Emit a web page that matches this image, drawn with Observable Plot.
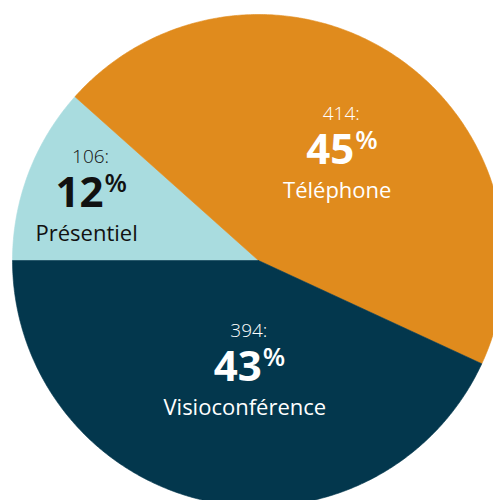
<!DOCTYPE html>
<html>
<head>
<meta charset="utf-8">
<script src="https://cdn.jsdelivr.net/npm/d3@7"></script>
<script src="https://cdn.jsdelivr.net/npm/@observablehq/plot@0.6"></script>
<style>
  html, body { margin: 0; padding: 0; background: #ffffff; }
  #chart svg { display: block; }
</style>
</head>
<body>
<div id="chart"></div>
<script>
// Data (pie order, clockwise starting from 9 o'clock)
const categories = ["Présentiel", "Téléphone", "Visioconférence"];
const counts = [106, 414, 394];
const sliceColors = ["#a9dcdf", "#e08b1d", "#03374d"];
const textColors = ["#111111", "#ffffff", "#ffffff"];

// Layout (styling, not data)
const W = 493, H = 500;
const CX = 258, CY = 260, R = 246;
// label radius (fraction of R) and pixel nudge per slice
const labelStyle = {
  "Présentiel":      {r: 0.70,  dx: -3, dy: 8},
  "Téléphone":       {r: 0.524, dx: 16, dy: 11},
  "Visioconférence": {r: 0.486, dx: 20, dy: 4}
};
const FONT = "'Open Sans', 'Noto Sans', sans-serif";

const total = d3.sum(counts);
const arcs = d3.pie().sort(null).value(d => d)
  .startAngle(-Math.PI / 2).endAngle(3 * Math.PI / 2)(counts);

// Slice outlines in unit coordinates (center 0,0, radius 1, y up)
const slicePts = [];
arcs.forEach((a, i) => {
  const cat = categories[i];
  slicePts.push({cat, x: 0, y: 0});
  const n = Math.max(2, Math.ceil((a.endAngle - a.startAngle) / (Math.PI / 360)));
  for (let k = 0; k <= n; k++) {
    const t = a.startAngle + (a.endAngle - a.startAngle) * k / n;
    slicePts.push({cat, x: Math.sin(t), y: Math.cos(t)});
  }
  slicePts.push({cat, x: 0, y: 0});
});

// Labels anchored on each slice's mid-angle
const labels = arcs.map((a, i) => {
  const mid = (a.startAngle + a.endAngle) / 2;
  const s = labelStyle[categories[i]];
  return {
    cat: categories[i],
    count: counts[i],
    pct: Math.round(counts[i] / total * 100),
    x: s.r * Math.sin(mid),
    y: s.r * Math.cos(mid),
    color: textColors[i]
  };
});

const textMarks = [];
labels.forEach(d => {
  const s = labelStyle[d.cat];
  const col = d.color;
  const one = [d];
  textMarks.push(
    Plot.text(one, {x: "x", y: "y", text: d => `${d.count}:`, fill: col,
      fontSize: 19, fontWeight: 300, lineAnchor: "bottom", dy: s.dy - 44, dx: s.dx - 4, fontFamily: FONT}),
    Plot.text(one, {x: "x", y: "y", text: d => `${d.pct}`, fill: col,
      fontSize: 42, fontWeight: 700, lineAnchor: "bottom", textAnchor: "end", dx: s.dx + 9, dy: s.dy, fontFamily: FONT}),
    Plot.text(one, {x: "x", y: "y", text: () => "%", fill: col,
      fontSize: 26, fontWeight: 600, lineAnchor: "bottom", textAnchor: "start", dx: s.dx + 10, dy: s.dy - 15, fontFamily: FONT}),
    Plot.text(one, {x: "x", y: "y", text: "cat", fill: col,
      fontSize: 22, fontWeight: 500, lineAnchor: "bottom", dy: s.dy + 34, dx: s.dx - 8, fontFamily: FONT})
  );
});

const chart = Plot.plot({
  width: W,
  height: H,
  margin: 0,
  style: {background: "#ffffff", fontFamily: FONT},
  x: {domain: [-CX / R, (W - CX) / R], axis: null},
  y: {domain: [-(H - CY) / R, CY / R], axis: null},
  color: {domain: categories, range: sliceColors},
  marks: [
    Plot.line(slicePts, {x: "x", y: "y", z: "cat", fill: "cat", stroke: "cat", strokeWidth: 0.6, curve: "linear"}),
    ...textMarks
  ]
});

document.getElementById("chart").appendChild(chart);
</script>
</body>
</html>
